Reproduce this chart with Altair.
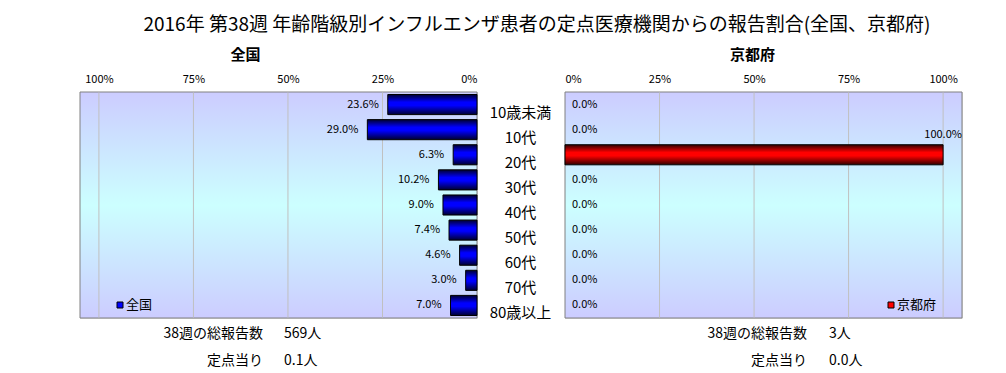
import altair as alt
import pandas as pd

FONT = "Noto Sans CJK JP"

# ---- data ----
ages = ["10歳未満", "10代", "20代", "30代", "40代", "50代", "60代", "70代", "80歳以上"]
national = [23.6, 29.0, 6.3, 10.2, 9.0, 7.4, 4.6, 3.0, 7.0]
kyoto = [0.0, 0.0, 100.0, 0.0, 0.0, 0.0, 0.0, 0.0, 0.0]
tick_values = [0, 25, 50, 75, 100]

main_title = "2016年 第38週 年齢階級別インフルエンザ患者の定点医療機関からの報告割合(全国、京都府)"
left_name = "全国"
right_name = "京都府"
left_notes = [["38週の総報告数", "569人"], ["定点当り", "0.1人"]]
right_notes = [["38週の総報告数", "3人"], ["定点当り", "0.0人"]]

# ---- layout / style ----
W, H = 397, 226


def grad(edge, mid):
    return alt.Gradient(
        gradient="linear", x1=0, x2=0, y1=0, y2=1,
        stops=[alt.GradientStop(color=edge, offset=0),
               alt.GradientStop(color=mid, offset=0.38),
               alt.GradientStop(color=mid, offset=0.55),
               alt.GradientStop(color=edge, offset=1)])


bg_grad = alt.Gradient(
    gradient="linear", x1=0, x2=0, y1=0, y2=1,
    stops=[alt.GradientStop(color="#ccccff", offset=0),
           alt.GradientStop(color="#ccffff", offset=0.5),
           alt.GradientStop(color="#ccccff", offset=1)])

yscale = alt.Scale(domain=ages, paddingInner=0.2, paddingOuter=0.1)


def panel(values, name, notes, reverse, bar_edge, bar_mid, legend_x, note_x, title_dx):
    df = pd.DataFrame({"age": ages, "value": values,
                       "label": [f"{v:.1f}%" for v in values]})
    xscale = alt.Scale(domain=[0, 105], reverse=reverse, nice=False, zero=True)
    xaxis = alt.Axis(orient="top", values=tick_values, labelExpr="datum.value + '%'",
                     domain=False, ticks=False, grid=False, labelFontSize=11,
                     labelPadding=8, title=None, labelColor="black", labelFont=FONT)
    if reverse:
        yaxis = alt.Axis(orient="right", domain=False, ticks=False, grid=False,
                         labelAlign="center", labelPadding=43, labelOffset=8,
                         labelFontSize=15, title=None, labelColor="black", labelFont=FONT)
    else:
        yaxis = None

    bg = alt.Chart(alt.Data(values=[{"a": 1}])).mark_rect(
        fill=bg_grad, stroke="#808080", strokeWidth=1).encode(
        x=alt.value(0), x2=alt.value(W), y=alt.value(0), y2=alt.value(H))
    grid = alt.Chart(pd.DataFrame({"t": tick_values[1:]})).mark_rule(
        color="#c0c0c0", strokeWidth=1).encode(
        x=alt.X("t:Q", scale=xscale, axis=xaxis), y=alt.value(0.5), y2=alt.value(H - 0.5))
    bars = alt.Chart(df).transform_filter("datum.value > 0").mark_bar(
        fill=grad(bar_edge, bar_mid), stroke="black", strokeWidth=1).encode(
        x=alt.X("value:Q", scale=xscale, axis=xaxis),
        y=alt.Y("age:N", scale=yscale, sort=ages, axis=yaxis))
    layers = [bg, grid, bars]
    if reverse:
        layers.append(alt.Chart(df).mark_text(align="right", baseline="middle", dx=-9, fontSize=11,
                                              font=FONT, color="black").encode(
            x=alt.X("value:Q", scale=xscale), y=alt.Y("age:N", scale=yscale, sort=ages), text="label:N"))
    else:
        layers.append(alt.Chart(df).transform_filter("datum.value < 50").mark_text(
            align="left", baseline="middle", dx=7, fontSize=11, font=FONT, color="black").encode(
            x=alt.X("value:Q", scale=xscale), y=alt.Y("age:N", scale=yscale, sort=ages), text="label:N"))
        layers.append(alt.Chart(df).transform_filter("datum.value >= 50").mark_text(
            align="center", baseline="middle", dy=-20, fontSize=11, font=FONT, color="black").encode(
            x=alt.X("value:Q", scale=xscale), y=alt.Y("age:N", scale=yscale, sort=ages), text="label:N"))

    # legend box
    leg = alt.Data(values=[{"name": name}])
    layers.append(alt.Chart(leg).mark_point(shape="square", filled=True, fill=bar_mid, stroke="black",
                                            strokeWidth=1, size=36, opacity=1).encode(
        x=alt.value(legend_x), y=alt.value(213)))
    layers.append(alt.Chart(leg).mark_text(align="left", baseline="middle", fontSize=13, font=FONT,
                                           color="black").encode(
        x=alt.value(legend_x + 6), y=alt.value(213), text="name:N"))

    # notes below the plot
    for i, (lab, val) in enumerate(notes):
        nd = alt.Data(values=[{"lab": lab, "val": val}])
        yy = H + 16 + 27 * i
        layers.append(alt.Chart(nd).mark_text(align="right", baseline="middle", fontSize=14,
                                              font=FONT, color="black").encode(
            x=alt.value(note_x[0]), y=alt.value(yy), text="lab:N"))
        layers.append(alt.Chart(nd).mark_text(align="left", baseline="middle", fontSize=14,
                                              font=FONT, color="black").encode(
            x=alt.value(note_x[1]), y=alt.value(yy), text="val:N"))

    return alt.layer(*layers).properties(
        width=W, height=H,
        title=alt.TitleParams(name, fontSize=15, fontWeight="bold", font=FONT, anchor="middle",
                              dx=title_dx, offset=10, color="black"))


left = panel(national, left_name, left_notes, True, "#000030", "#0000ff", 40, (183, 204), -33)
right = panel(kyoto, right_name, right_notes, False, "#300000", "#ff0000", 326, (242, 264), -11)

chart = alt.hconcat(left, right, spacing=88, bounds="flush").properties(
    title=alt.TitleParams(main_title, fontSize=19, font=FONT, anchor="middle", dx=16, offset=13,
                          color="black", fontWeight="normal"),
    padding={"left": 71, "top": 7, "right": 0, "bottom": 0},
).configure_view(stroke=None).configure(font=FONT)

chart.save("out.html", embed_options={"renderer": "svg", "actions": False})
